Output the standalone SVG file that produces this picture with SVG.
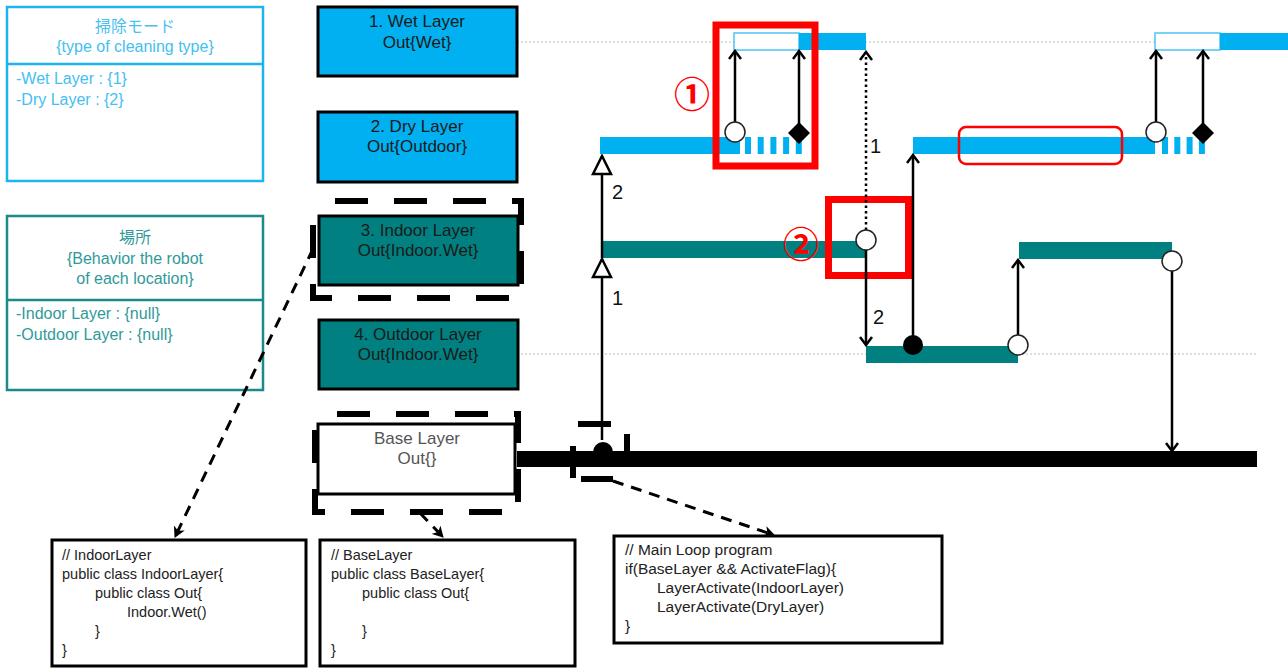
<svg xmlns="http://www.w3.org/2000/svg" width="1288" height="668" viewBox="0 0 1288 668">
<style>
text{font-family:"Liberation Sans","Noto Sans CJK JP",sans-serif}
.lay{font-size:17px;fill:#1a1a1a;text-anchor:middle}
.blu{fill:#00B0F0;stroke:#000;stroke-width:3}
.tea{fill:#008080;stroke:#000;stroke-width:3}
.btx{font-size:16px;fill:#45c0f0}
.ttx{font-size:16px;fill:#2f9a9a}
.code{font-size:14.5px;fill:#222}
.cbox{fill:#fff;stroke:#000;stroke-width:3}
.sel{fill:none;stroke:#000;stroke-width:6;stroke-dasharray:33 26}
.dot{stroke:#bbb;stroke-width:1;stroke-dasharray:2 2;fill:none}
.ln{stroke:#000;stroke-width:2.5;fill:none}
.dl{stroke:#000;stroke-width:3;fill:none;stroke-dasharray:11 8}
.num{font-size:20px;fill:#111}
.red{fill:none;stroke:#f00}
.circ{fill:#fff;stroke:#222;stroke-width:1.5}
.rn{font-size:36px;font-weight:bold;fill:#f00;font-family:"Noto Sans CJK JP",sans-serif;text-anchor:middle}
</style>
<defs>
<marker id="va" markerUnits="userSpaceOnUse" viewBox="-1 -1 11 14" refX="8" refY="6" markerWidth="11" markerHeight="14" orient="auto">
<path d="M0,0 L8,6 L0,12" fill="none" stroke="#000" stroke-width="2.5"/>
</marker>
<marker id="tri" markerUnits="userSpaceOnUse" viewBox="-2 -2 22 22" refX="18" refY="9" markerWidth="22" markerHeight="22" orient="auto">
<path d="M0,0 L18,9 L0,18 Z" fill="#fff" stroke="#000" stroke-width="2.5"/>
</marker>
<marker id="fa" markerUnits="userSpaceOnUse" viewBox="0 0 12 12" refX="10" refY="6" markerWidth="12" markerHeight="12" orient="auto">
<path d="M0,0 L11,6 L0,12 L3,6 Z" fill="#000"/>
</marker>
</defs>

<g id="cleaning-mode">
<rect x="7" y="7" width="256" height="174" fill="#fff" stroke="#1db4f0" stroke-width="2.5"/>
<line x1="7" y1="64" x2="263" y2="64" stroke="#1db4f0" stroke-width="2.5"/>
<text class="btx" x="135" y="32" text-anchor="middle">掃除モード</text>
<text class="btx" x="135" y="52" text-anchor="middle">{type of cleaning type}</text>
<text class="btx" x="16" y="84">-Wet Layer : {1}</text>
<text class="btx" x="16" y="105">-Dry Layer : {2}</text>
</g>

<g id="location">
<rect x="7" y="216" width="256" height="174" fill="#fff" stroke="#1a8a8a" stroke-width="2.5"/>
<line x1="7" y1="300" x2="263" y2="300" stroke="#1a8a8a" stroke-width="2.5"/>
<text class="ttx" x="135" y="243" text-anchor="middle">場所</text>
<text class="ttx" x="135" y="264" text-anchor="middle">{Behavior the robot</text>
<text class="ttx" x="135" y="284" text-anchor="middle">of each location}</text>
<text class="ttx" x="16" y="319">-Indoor Layer : {null}</text>
<text class="ttx" x="16" y="340">-Outdoor Layer : {null}</text>
</g>

<g id="timeline-bg">
<line class="dot" x1="517" y1="42" x2="1155" y2="42"/>
<line class="dot" x1="517" y1="354" x2="866" y2="354"/>
<line class="dot" x1="1018" y1="354" x2="1257" y2="354"/>
</g>

<g id="wet-layer">
<rect class="blu" x="318" y="7" width="199" height="69"/>
<text class="lay" x="417" y="27">1. Wet Layer</text>
<text class="lay" x="417" y="48">Out{Wet}</text>
</g>
<g id="dry-layer">
<rect class="blu" x="318" y="112" width="199" height="70"/>
<text class="lay" x="417" y="132">2. Dry Layer</text>
<text class="lay" x="417" y="152">Out{Outdoor}</text>
</g>
<g id="indoor-layer">
<rect class="tea" x="319" y="216" width="199" height="69"/>
<rect class="sel" x="313" y="201" width="208" height="97" stroke-dashoffset="37"/>
<text class="lay" x="418" y="236">3. Indoor Layer</text>
<text class="lay" x="418" y="256">Out{Indoor.Wet}</text>
</g>
<g id="outdoor-layer">
<rect class="tea" x="319" y="320" width="199" height="69"/>
<text class="lay" x="418" y="340">4. Outdoor Layer</text>
<text class="lay" x="418" y="360">Out{Indoor.Wet}</text>
</g>
<g id="base-layer">
<rect x="318" y="424" width="197" height="70" fill="#fff" stroke="#000" stroke-width="3"/>
<rect class="sel" x="315" y="414" width="203" height="98" stroke-dashoffset="37"/>
<text class="lay" x="417" y="444" style="fill:#555">Base Layer</text>
<text class="lay" x="417" y="464" style="fill:#555">Out{}</text>
</g>

<g id="bars">
<rect x="734" y="33" width="65" height="17" fill="#fff" stroke="#4cc4f2" stroke-width="1.5"/>
<rect x="799" y="33" width="67" height="17" fill="#00B0F0"/>
<rect x="1155" y="33" width="65" height="17" fill="#fff" stroke="#4cc4f2" stroke-width="1.5"/>
<rect x="1220" y="33" width="68" height="17" fill="#00B0F0"/>
<rect x="600" y="137" width="140" height="17" fill="#00B0F0"/>
<line x1="745" y1="145.5" x2="802" y2="145.5" stroke="#00B0F0" stroke-width="17" stroke-dasharray="6 6.7"/>
<rect x="913" y="137" width="242" height="17" fill="#00B0F0"/>
<line x1="1162" y1="145.5" x2="1206" y2="145.5" stroke="#00B0F0" stroke-width="17" stroke-dasharray="6 6.3"/>
<rect x="601" y="241" width="265" height="17" fill="#008080"/>
<rect x="866" y="346" width="152" height="17" fill="#008080"/>
<rect x="1019" y="242" width="153" height="17" fill="#008080"/>
<rect x="517" y="451" width="740" height="16" fill="#000"/>
<path d="M593,452 A10,10 0 0 1 613,452 Z" fill="#000"/>
</g>

<g id="highlights">
<rect class="red" x="716" y="25" width="99" height="141" stroke-width="7"/>
<text class="rn" x="692" y="108">①</text>
<rect class="red" x="828.5" y="199.5" width="80" height="76" stroke-width="7"/>
<text class="rn" x="801" y="258">②</text>
<rect class="red" x="959" y="127" width="163" height="37" rx="7" stroke-width="2.5"/>
</g>

<g id="connectors">
<line class="ln" x1="602" y1="440" x2="602" y2="259" marker-end="url(#tri)"/>
<line class="ln" x1="602" y1="258" x2="602" y2="156" marker-end="url(#tri)"/>
<text class="num" x="612" y="305">1</text>
<text class="num" x="612" y="199">2</text>
<line class="ln" x1="735" y1="122" x2="735" y2="51" marker-end="url(#va)"/>
<line class="ln" x1="799" y1="124" x2="799" y2="51" marker-end="url(#va)"/>
<line class="ln" x1="1156" y1="122" x2="1156" y2="51" marker-end="url(#va)"/>
<line class="ln" x1="1203" y1="124" x2="1203" y2="51" marker-end="url(#va)"/>
<line x1="866" y1="230" x2="866" y2="52" stroke="#000" stroke-width="2.5" stroke-dasharray="2.5 3" marker-end="url(#va)"/>
<text class="num" x="870" y="153">1</text>
<line class="ln" x1="866" y1="250" x2="866" y2="345" marker-end="url(#va)"/>
<text class="num" x="873" y="324">2</text>
<line class="ln" x1="913" y1="345" x2="913" y2="155" marker-end="url(#va)"/>
<line class="ln" x1="1018" y1="335" x2="1018" y2="260" marker-end="url(#va)"/>
<line class="ln" x1="1172" y1="270" x2="1172" y2="451" marker-end="url(#va)"/>
<path d="M578,424 H611 M627,434 V451 M613,479 H581 M573,478 V446" stroke="#000" stroke-width="6" fill="none"/>
<line class="dl" x1="313" y1="249" x2="175" y2="537" marker-end="url(#fa)"/>
<line class="dl" x1="420" y1="513" x2="443" y2="537" marker-end="url(#fa)"/>
<line class="dl" x1="613" y1="481" x2="774" y2="535" marker-end="url(#fa)"/>
<circle class="circ" cx="735" cy="132" r="10"/>
<path d="M799,122 L810,133 L799,144 L788,133 Z" fill="#000"/>
<circle class="circ" cx="1156" cy="132" r="10"/>
<path d="M1203,122 L1214,133 L1203,144 L1192,133 Z" fill="#000"/>
<circle class="circ" cx="866" cy="240" r="10"/>
<circle cx="913" cy="345" r="10" fill="#000"/>
<circle class="circ" cx="1018" cy="345" r="10"/>
<circle class="circ" cx="1172" cy="261" r="10"/>
</g>

<g id="code-indoor">
<rect class="cbox" x="52" y="540" width="254" height="126"/>
<text class="code" x="62" y="560">// IndoorLayer</text>
<text class="code" x="62" y="579">public class IndoorLayer{</text>
<text class="code" x="95" y="598">public class Out{</text>
<text class="code" x="127" y="617">Indoor.Wet()</text>
<text class="code" x="95" y="636">}</text>
<text class="code" x="62" y="655">}</text>
</g>
<g id="code-base">
<rect class="cbox" x="320" y="540" width="255" height="126"/>
<text class="code" x="331" y="560">// BaseLayer</text>
<text class="code" x="331" y="579">public class BaseLayer{</text>
<text class="code" x="362" y="598">public class Out{</text>
<text class="code" x="362" y="636">}</text>
<text class="code" x="331" y="655">}</text>
</g>
<g id="code-main">
<rect class="cbox" x="614" y="536" width="328" height="107"/>
<text class="code" x="625" y="555" style="font-size:15.5px">// Main Loop program</text>
<text class="code" x="625" y="574" style="font-size:15.5px">if(BaseLayer &amp;&amp; ActivateFlag){</text>
<text class="code" x="657" y="593" style="font-size:15.5px">LayerActivate(IndoorLayer)</text>
<text class="code" x="657" y="612" style="font-size:15.5px">LayerActivate(DryLayer)</text>
<text class="code" x="625" y="631" style="font-size:15.5px">}</text>
</g>
</svg>
